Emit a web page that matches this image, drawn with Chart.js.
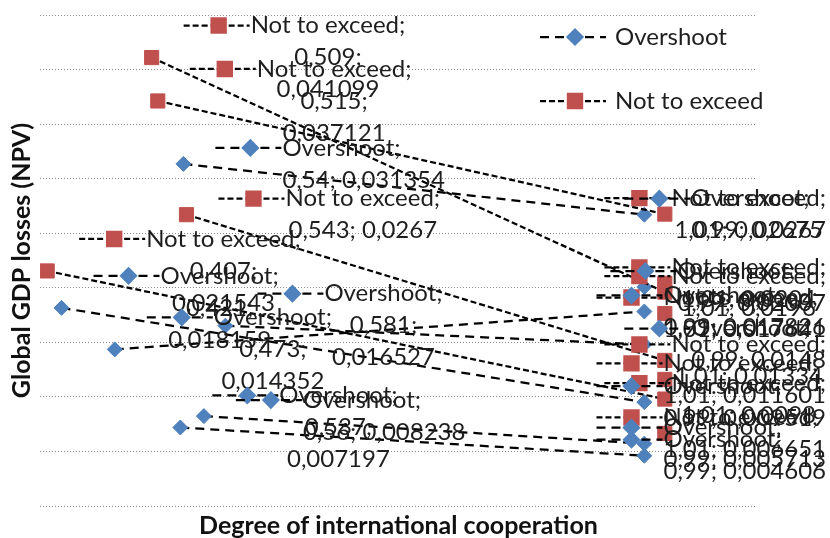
<!DOCTYPE html>
<html><head><meta charset="utf-8">
<script src="https://cdn.jsdelivr.net/npm/chart.js@4/dist/chart.umd.min.js"></script>
<style>html,body{margin:0;padding:0;background:#fff;}canvas{display:block;}</style>
</head><body>
<canvas id="c" width="830" height="538"></canvas>
<script>
// ---- data ----
const seriesNames = ['Overshoot', 'Not to exceed'];
// Overshoot scenarios: partial-cooperation point -> full-cooperation point
const overshootPartialX = [0.54, 0.421, 0.473, 0.581, 0.537, 0.56, null];
const overshootPartialY = [0.031354, 0.018159, 0.014352, 0.016527, 0.007197, 0.008238, null];
const overshootFullX = [0.99, 0.99, 0.99, 0.99, 0.99, 0.99, 0.99];
const overshootFullY = [0.0267, 0.009519, 0.017826, 0.0148, 0.004606, 0.005713, 0.02007];
// Not-to-exceed scenarios
const notToExceedPartialX = [0.509, 0.515, 0.543, 0.407, null, null, null, null];
const notToExceedPartialY = [0.041099, 0.037121, 0.0267, 0.021543, null, null, null, null];
const notToExceedFullX = [1.01, 1.01, 1.01, 1.01, 1.01, 1.01, 1.01, 1.01];
const notToExceedFullY = [0.0196, 0.02675, 0.01334, 0.0098, 0.0204, 0.017641, 0.011601, 0.006651];
const xAxisRange = [0.4, 1.1];
const yAxisRange = [0, 0.045];
const yStep = 0.005;
const xAxisTitle = 'Degree of international cooperation';
const yAxisTitle = 'Global GDP losses (NPV)';

// ---- styles ----
const seriesStyle = {
  'Overshoot': {color: '#4F81BD', pointStyle: 'rectRot', radius: 7.5, dash: [9, 6]},
  'Not to exceed': {color: '#C0504D', pointStyle: 'rect', radius: 10, dash: [6, 3]}
};
const LABEL_FONT = '24px Lato, "Open Sans", sans-serif';
const TITLE_FONT = 'bold 25px Lato, "Open Sans", sans-serif';
const TEXT_COLOR = '#1e1e1e';

function buildDatasets(name, px, py, fx, fy) {
  const st = seriesStyle[name];
  return fx.map((_, i) => {
    const pts = [];
    if (px[i] != null) pts.push({x: px[i], y: py[i]});
    pts.push({x: fx[i], y: fy[i]});
    return {
      label: name, data: pts, showLine: true,
      borderColor: '#000', borderWidth: 2.25, borderDash: st.dash,
      pointStyle: st.pointStyle, pointRadius: st.radius, pointHoverRadius: st.radius,
      pointBackgroundColor: st.color, pointBorderColor: st.color, pointBorderWidth: 1
    };
  });
}
const datasets = [
  ...buildDatasets('Not to exceed', notToExceedPartialX, notToExceedPartialY, notToExceedFullX, notToExceedFullY),
  ...buildDatasets('Overshoot', overshootPartialX, overshootPartialY, overshootFullX, overshootFullY)
];

function fmt(v) { return String(v).replace('.', ','); }

function drawKey(ctx, name, x, y) {
  const st = seriesStyle[name];
  ctx.save();
  ctx.strokeStyle = '#000'; ctx.lineWidth = 2.25; ctx.setLineDash(st.dash);
  ctx.beginPath(); ctx.moveTo(x, y); ctx.lineTo(x + 66, y); ctx.stroke();
  ctx.setLineDash([]);
  ctx.fillStyle = st.color; ctx.strokeStyle = st.color;
  Chart.helpers.drawPoint(ctx, {pointStyle: st.pointStyle, radius: st.radius, borderWidth: 1}, x + 35, y);
  ctx.restore();
}

const labelPlugin = {
  id: 'excelLabels',
  afterDatasetsDraw(chart) {
    const ctx = chart.ctx;
    ctx.save();
    ctx.font = LABEL_FONT;
    ctx.textBaseline = 'middle';
    chart.data.datasets.forEach((ds, di) => {
      const meta = chart.getDatasetMeta(di);
      meta.data.forEach((el, i) => {
        const pt = ds.data[i];
        const xs = fmt(pt.x), ys = fmt(pt.y);
        const rest = xs + '; ' + ys;
        const lines = [ds.label + ';'].concat(rest.length <= 14 ? [rest] : [xs + ';', ys]);
        const W = Math.max(...lines.map(l => ctx.measureText(l).width));
        const lh = 32;
        const y0 = el.y - (lines.length - 1) * lh / 2;
        let L = el.x + 32;
        if (L + 67 + W > chart.width - 4) L = chart.width - 4 - 67 - W;
        drawKey(ctx, ds.label, L, y0);
        ctx.fillStyle = TEXT_COLOR;
        ctx.textAlign = 'left';
        ctx.fillText(lines[0], L + 67, y0);
        ctx.textAlign = 'center';
        for (let k = 1; k < lines.length; k++) ctx.fillText(lines[k], L + 67 + W / 2, y0 + k * lh);
      });
    });
    ctx.restore();
  }
};

const decorPlugin = {
  id: 'decor',
  afterDraw(chart) {
    const ctx = chart.ctx, a = chart.chartArea;
    ctx.save();
    // legend
    ctx.font = LABEL_FONT; ctx.textBaseline = 'middle'; ctx.textAlign = 'left';
    seriesNames.forEach((n, i) => {
      const y = a.top + 22 + i * 64;
      const x = a.right - 217;
      drawKey(ctx, n, x, y);
      ctx.fillStyle = TEXT_COLOR;
      ctx.fillText(n, x + 75, y);
    });
    // axis titles
    ctx.font = TITLE_FONT; ctx.fillStyle = '#111'; ctx.textAlign = 'center';
    ctx.fillText(xAxisTitle, (a.left + a.right) / 2, a.bottom + 20);
    ctx.translate(a.left - 18, (a.top + a.bottom) / 2);
    ctx.rotate(-Math.PI / 2);
    ctx.fillText(yAxisTitle, 0, 0);
    ctx.restore();
  }
};

new Chart(document.getElementById('c'), {
  type: 'scatter',
  data: {datasets},
  options: {
    responsive: false, animation: false, devicePixelRatio: 1,
    layout: {padding: {left: 40, right: 73, top: 15, bottom: 32}},
    plugins: {legend: {display: false}, tooltip: {enabled: false}},
    scales: {
      x: {type: 'linear', min: xAxisRange[0], max: xAxisRange[1], display: false},
      y: {type: 'linear', min: yAxisRange[0], max: yAxisRange[1],
          ticks: {display: false, stepSize: yStep},
          grid: {color: '#8a8a8a', lineWidth: 1, drawTicks: false},
          border: {display: false, dash: [1, 2]}}
    }
  },
  plugins: [labelPlugin, decorPlugin]
});
</script>
</body></html>
